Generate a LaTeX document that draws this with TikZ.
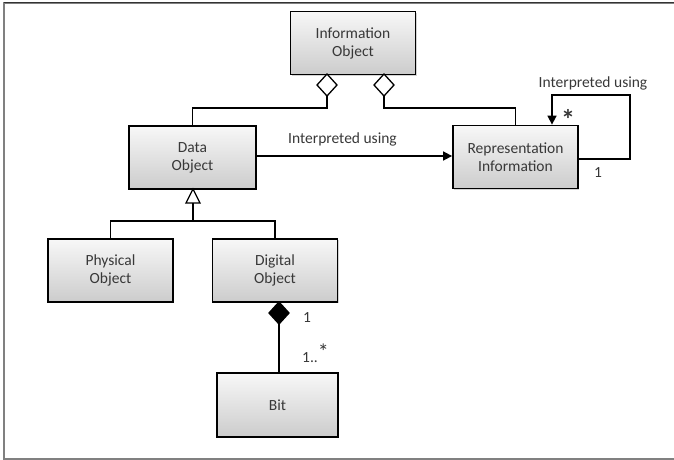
\documentclass[tikz,border=0pt]{standalone}
\usepackage{fontspec}
\setmainfont{Carlito}
\usetikzlibrary{arrows.meta,shadows}
\definecolor{txt}{HTML}{383838}
\begin{document}
\begin{tikzpicture}[x=1pt,y=-1pt,
  box/.style={draw=black,line width=1.8pt,top color=gray!6,bottom color=gray!40,
    minimum width=125pt,minimum height=63pt,align=center,text=txt,
    font=\fontsize{15.5}{18}\selectfont,inner sep=0pt,
    drop shadow={shadow xshift=1.2pt,shadow yshift=-1.2pt,opacity=0.35}},
  conn/.style={line width=1.6pt,draw=black},
  lbl/.style={text=txt,font=\fontsize{15.5}{18}\selectfont,inner sep=0pt},
  agg/.style={draw=black,fill=white,line width=1.3pt},
  comp/.style={draw=black,fill=black,line width=1.3pt}
]
\useasboundingbox (0,0) rectangle (674,460);
\draw[gray,line width=1.5pt] (674,3) -- (4,3) -- (4,459) -- (674,459);
\draw[black!80,line width=1pt] (4,3) -- (674,3);

\node[box] (io) at (353,43) {Information\\Object};
\node[box,minimum width=127pt] (do) at (192.5,157.5) {Data\\Object};
\node[box] (ri) at (515.5,157) {Representation\\Information};
\node[box] (po) at (110.5,270.5) {Physical\\Object};
\node[box] (dg) at (275,270.5) {Digital\\Object};
\node[box,minimum width=121pt,minimum height=64pt] (bit) at (277.5,405) {Bit};

% aggregation diamonds
\draw[agg] (327,74) -- (337,85) -- (327,96) -- (317,85) -- cycle;
\draw[agg] (384,74) -- (394,85) -- (384,96) -- (374,85) -- cycle;
\coordinate (d1b) at (327,96);
\coordinate (d2b) at (384,96);
\draw[conn] (d1b) -- (327,108) -| (do.north);
\draw[conn] (d2b) -- (384,108) -| (ri.north);

% interpreted using
\draw[conn,-{Triangle[length=9pt,width=9pt]}] (do.east |- 0,156) -- (ri.west |- 0,156)
  node[lbl,midway,above=9pt,xshift=-12pt] {Interpreted using};

% self loop
\draw[conn,-{Triangle[length=9pt,width=9pt]}] (ri.east |- 0,159) -- (630,159) -- (630,95) -- (552,95) -- (ri.north -| 552,0);
\node[lbl] (lb2) at (593,83) {Interpreted using};
\node[lbl,font=\bfseries\fontsize{28}{28}\selectfont] (st1) at (568,119) {*};
\node[lbl] (one1) at (598,173) {1};

% generalization
\draw[conn,fill=white,line width=1.3pt] (193,189) -- (200,203) -- (186,203) -- cycle;
\coordinate (gb) at (193,203);
\draw[conn] (gb) -- (193,221);
\draw[conn] (po.north) |- (193,221) -| (dg.north);

% composition
\draw[comp] (279,302) -- (289,313) -- (279,324) -- (269,313) -- cycle;
\coordinate (cb) at (279,324);
\draw[conn] (cb) -- (bit.north -| 279,0);
\node[lbl] (one2) at (307,318) {1};
\node[lbl,anchor=base west] (mult) at (302,362) {1..\raisebox{3pt}{\fontsize{22}{22}\selectfont *}};
\end{tikzpicture}
\end{document}
